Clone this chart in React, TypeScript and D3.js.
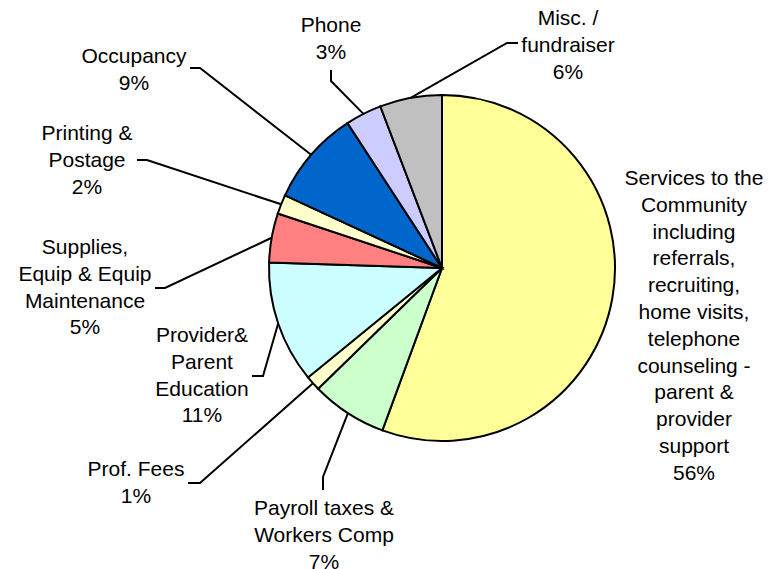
import React from "react";
import * as d3 from "d3";

// ---- data ----
const categories = [
  "Services to the Community",
  "Payroll taxes & Workers Comp",
  "Prof. Fees",
  "Provider& Parent Education",
  "Supplies, Equip & Equip Maintenance",
  "Printing & Postage",
  "Occupancy",
  "Phone",
  "Misc. / fundraiser",
];
const values = [55.6, 7.1, 1.4, 11.4, 4.6, 1.8, 8.9, 3.4, 5.8];
const labelLines = [
  ["Services to the", "Community", "including", "referrals,", "recruiting,", "home visits,", "telephone", "counseling -", "parent &", "provider", "support"],
  ["Payroll taxes &", "Workers Comp"],
  ["Prof. Fees"],
  ["Provider&", "Parent", "Education"],
  ["Supplies,", "Equip & Equip", "Maintenance"],
  ["Printing &", "Postage"],
  ["Occupancy"],
  ["Phone"],
  ["Misc. /", "fundraiser"],
];

// ---- styles / layout ----
const colors = ["#FFFF99", "#CCFFCC", "#FFFFCC", "#CCFFFF", "#FF8080", "#FFFFCC", "#0066CC", "#CCCCFF", "#C0C0C0"];
const W = 781, H = 569;
const CX = 442, CY = 268, R = 173;
const LINE_H = 26.8;
// label anchor (center x, first baseline) and leader elbow points (label side -> pie side)
const labelLayout: { x: number; y: number; leader: [number, number][] }[] = [
  { x: 694, y: 185, leader: [] },
  { x: 324, y: 515, leader: [[323, 490], [323, 477]] },
  { x: 136, y: 476, leader: [[188, 483], [200, 483]] },
  { x: 202, y: 342, leader: [[252, 376], [263, 376]] },
  { x: 85, y: 254, leader: [[155, 288], [165, 288]] },
  { x: 87, y: 140, leader: [[137, 160], [147, 160]] },
  { x: 134, y: 63, leader: [[190, 68], [200, 68]] },
  { x: 331, y: 32, leader: [[331, 70], [331, 81]] },
  { x: 568, y: 25, leader: [[518, 43], [507, 43]] },
];

export default function App() {
  const total = d3.sum(values);
  const pie = d3.pie<number>().sort(null).startAngle(0).endAngle(2 * Math.PI);
  const arcs = pie(values);
  const arcGen = d3.arc<d3.PieArcDatum<number>>().innerRadius(0).outerRadius(R);
  const line = d3.line();

  return (
    <svg
      width={W}
      height={H}
      style={{ position: "absolute", left: 0, top: 0, background: "#fff" }}
      fontFamily="'Liberation Sans', Arial, sans-serif"
      fontSize={21}
    >
      <rect x={0} y={0} width={W} height={H} fill="#fff" />
      <g transform={`translate(${CX},${CY})`}>
        {arcs.map((a, i) => (
          <path key={i} d={arcGen(a) || ""} fill={colors[i]} stroke="#000" strokeWidth={2} strokeLinejoin="miter" />
        ))}
      </g>
      {arcs.map((a, i) => {
        const lay = labelLayout[i];
        if (!lay.leader.length) return null;
        const mid = (a.startAngle + a.endAngle) / 2;
        const px = CX + R * Math.sin(mid);
        const py = CY - R * Math.cos(mid);
        const pts: [number, number][] = [...lay.leader, [px, py]];
        return <path key={"l" + i} d={line(pts) || ""} fill="none" stroke="#000" strokeWidth={2} />;
      })}
      {arcs.map((a, i) => {
        const lay = labelLayout[i];
        const lines = [...labelLines[i], `${Math.round((values[i] / total) * 100)}%`];
        return (
          <text key={"t" + i} x={lay.x} y={lay.y} textAnchor="middle" fill="#000">
            {lines.map((s, j) => (
              <tspan key={j} x={lay.x} y={lay.y + j * LINE_H}>
                {s}
              </tspan>
            ))}
          </text>
        );
      })}
    </svg>
  );
}
